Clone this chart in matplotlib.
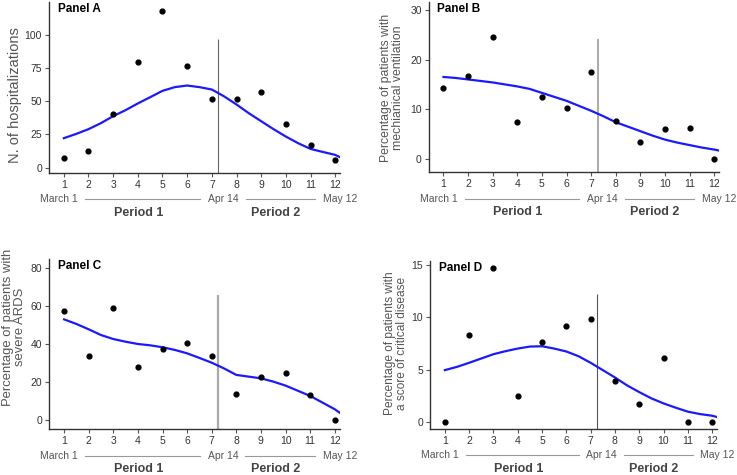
import matplotlib.pyplot as plt

plt.rcParams.update({
    "font.family": "Liberation Sans",
    "font.size": 7.5,
})

# data
months = list(range(1, 13))
fit_x = [1, 1.5, 2, 2.5, 3, 3.5, 4, 4.5, 5, 5.5, 6, 6.5, 7, 7.5,
         8, 8.5, 9, 9.5, 10, 10.5, 11, 11.5, 12, 12.2]

hosp = [7.5, 12.6, 40.8, 79.6, 118.4, 77, 51.4, 52.1, 57.2, 33, 16.9, 5.6]
hosp_fit = [22.2, 25.4, 29.0, 33.5, 38.8, 43.3, 48.4, 53.1, 57.9, 60.7, 61.9, 60.7,
            58.9, 53.7, 47.6, 41.0, 35.0, 29.0, 23.4, 18.4, 14.1, 11.8, 9.6, 7.8]

vent = [14.3, 16.7, 24.5, 7.5, 12.5, 10.3, 17.6, 7.7, 3.5, 6.1, 6.3, 0]
vent_fit = [16.5, 16.3, 16.0, 15.7, 15.4, 15.0, 14.6, 14.1, 13.3, 12.5, 11.7, 10.7,
            9.7, 8.6, 7.4, 6.5, 5.6, 4.7, 3.9, 3.3, 2.8, 2.3, 1.9, 1.7]

ards = [57.3, 33.7, 58.7, 27.9, 37.4, 40.7, 33.7, 13.8, 22.9, 24.6, 13.1, 0]
ards_fit = [52.9, 50.5, 47.7, 44.7, 42.6, 41.2, 40.0, 39.3, 38.3, 36.9, 35.1, 32.7,
            30.2, 27.2, 23.8, 22.9, 22.0, 20.3, 18.2, 15.5, 12.8, 9.3, 5.8, 4.0]

crit = [0, 8.3, 14.7, 2.5, 7.6, 9.15, 9.8, 3.9, 1.75, 6.1, 0, 0]
crit_fit = [4.96, 5.27, 5.66, 6.07, 6.48, 6.77, 7.02, 7.21, 7.24, 7.02, 6.74, 6.29,
            5.66, 4.96, 4.26, 3.5, 2.86, 2.26, 1.78, 1.37, 0.99, 0.76, 0.6, 0.48]

panels = [
    ("Panel A", "N. of hospitalizations", hosp, hosp_fit, [0, 25, 50, 75, 100], (-4, 125), 97),
    ("Panel B", "Percentage of patients with\nmechianical ventilation", vent, vent_fit, [0, 10, 20, 30], (-2.7, 31.6), 24.1),
    ("Panel C", "Percentage of patients with\nsevere ARDS", ards, ards_fit, [0, 20, 40, 60, 80], (-4.7, 84.4), 65.7),
    ("Panel D", "Percentage of patients with\na score of critical disease", crit, crit_fit, [0, 5, 10, 15], (-0.67, 15.4), 12.2),
]

# layout per panel: axes rect, ylabel position / size, divider style
rects = [
    [0.0665, 0.636, 0.395, 0.36],
    [0.5817, 0.637, 0.394, 0.359],
    [0.0669, 0.0962, 0.394, 0.358],
    [0.5838, 0.0968, 0.389, 0.354],
]
label_pos = [(-0.117, 0.453), (-0.125, 0.497), (-0.122, 0.60), (-0.12, 0.51)]
label_size = [10.5, 8.8, 9.4, 8.6]
vline_style = [("#666666", 0.8), ("#aaaaaa", 1.4), ("#aaaaaa", 1.6), ("#555555", 0.8)]

fig = plt.figure(figsize=(7.37, 4.75), dpi=100)

for i, (title, ylab, pts, fit, yt, ylim, vtop) in enumerate(panels):
    ax = fig.add_axes(rects[i])
    ax.plot(fit_x, fit, color="#1a1aff", linewidth=1.6, zorder=2,
            solid_joinstyle="round")
    ax.scatter(months, pts, s=12, color="black", zorder=3)
    ax.set_xlim(0.4, 12.2)
    ax.set_ylim(*ylim)
    vc, vw = vline_style[i]
    ax.vlines(7.27, ylim[0], vtop, color=vc, linewidth=vw, zorder=1)

    ax.set_xticks(months)
    ax.set_yticks(yt)
    ax.tick_params(colors="#555555", labelcolor="#333333", labelsize=7.5,
                   length=3, width=0.8, pad=2)
    for s in ["top", "right"]:
        ax.spines[s].set_visible(False)
    for s in ["left", "bottom"]:
        ax.spines[s].set_color("#333333")
        ax.spines[s].set_linewidth(1.0)

    ax.set_ylabel(ylab, fontsize=label_size[i], color="#555555",
                  linespacing=1.0, va="center")
    ax.yaxis.set_label_coords(*label_pos[i])
    ax.text(0.03, 0.995, title, transform=ax.transAxes, fontsize=8.5,
            fontweight="bold", va="top", ha="left")

    # date axis below the ticks
    tr = ax.get_xaxis_transform()
    for xx, lab in [(0.8, "March 1"), (7.46, "Apr 14"), (12.22, "May 12")]:
        ax.text(xx, -0.155, lab, transform=tr, ha="center", va="center",
                fontsize=7.5, color="#555555", clip_on=False)
    for x0, x1 in [(1.86, 6.51), (8.37, 11.2)]:
        ax.plot([x0, x1], [-0.155, -0.155], transform=tr, color="#999999",
                linewidth=0.8, clip_on=False)
    for xx, lab in [(4.02, "Period 1"), (9.6, "Period 2")]:
        ax.text(xx, -0.235, lab, transform=tr, ha="center", va="center",
                fontsize=9, fontweight="bold", color="#444444", clip_on=False)

plt.savefig("out.png", dpi=100)
